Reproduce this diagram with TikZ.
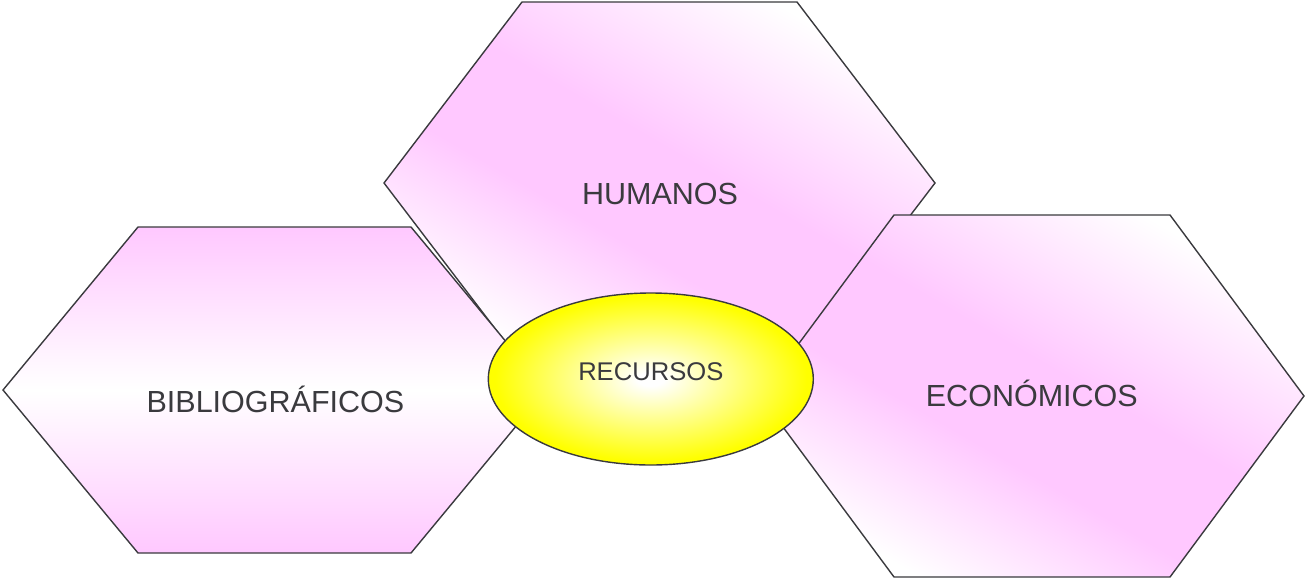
\documentclass[tikz,border=0pt]{standalone}
\usepackage{fontspec}
\setmainfont{Liberation Sans}
\usetikzlibrary{shapes.geometric}
\definecolor{pinkfill}{RGB}{255,200,255}
\definecolor{edgegray}{RGB}{58,58,62}
\definecolor{textgray}{RGB}{58,58,62}
\definecolor{yel}{RGB}{255,255,0}
\pgfdeclareverticalshading{diagpink}{100bp}{color(0bp)=(white); color(25bp)=(white); color(42bp)=(pinkfill); color(54bp)=(pinkfill); color(75bp)=(white); color(100bp)=(white)}
\pgfdeclareradialshading{yelglow}{\pgfpoint{0bp}{0bp}}{color(0bp)=(white); color(2bp)=(white); color(24bp)=(yel); color(50bp)=(yel)}
\begin{document}
\begin{tikzpicture}[x=1pt,y=-1pt,
  hexa/.style={draw=edgegray,line width=1.4pt,line join=miter},
  diagshade/.style={shading=diagpink,shading angle=-30},
  vertshade/.style={top color=pinkfill,bottom color=pinkfill,middle color=white},
  lbl/.style={inner sep=0pt,text=textgray,text height=21.8pt,text depth=0pt,font=\fontsize{30.5}{36}\selectfont},
  smalllbl/.style={inner sep=0pt,text=textgray,text height=18.3pt,text depth=0pt,font=\fontsize{25.6}{30}\selectfont}]
\useasboundingbox (0,0) rectangle (1305,579);
% Humanos
\path[hexa,diagshade] (384,183) -- (522,2) -- (797,2) -- (935,183) -- (797,364) -- (522,364) -- cycle;
% Bibliograficos
\path[hexa,vertshade] (3,390) -- (138,227) -- (411,227) -- (546,390) -- (411,553) -- (138,553) -- cycle;
% Economicos
\path[hexa,diagshade] (760,396) -- (894,215) -- (1170,215) -- (1304,396) -- (1170,577) -- (894,577) -- cycle;
% Recursos
\node[ellipse,draw=edgegray,line width=1.4pt,shading=yelglow,minimum width=325pt,minimum height=172pt,inner sep=0pt] (rec) at (650.8,379) {};
\node[lbl] (hum) at (660,194) {HUMANOS};
\node[lbl] (bib) at (275.4,401.7) {BIBLIOGRÁFICOS};
\node[lbl] (eco) at (1031.8,396) {ECONÓMICOS};
\node[smalllbl] (recl) at (650.8,371) {RECURSOS};
\end{tikzpicture}
\end{document}
